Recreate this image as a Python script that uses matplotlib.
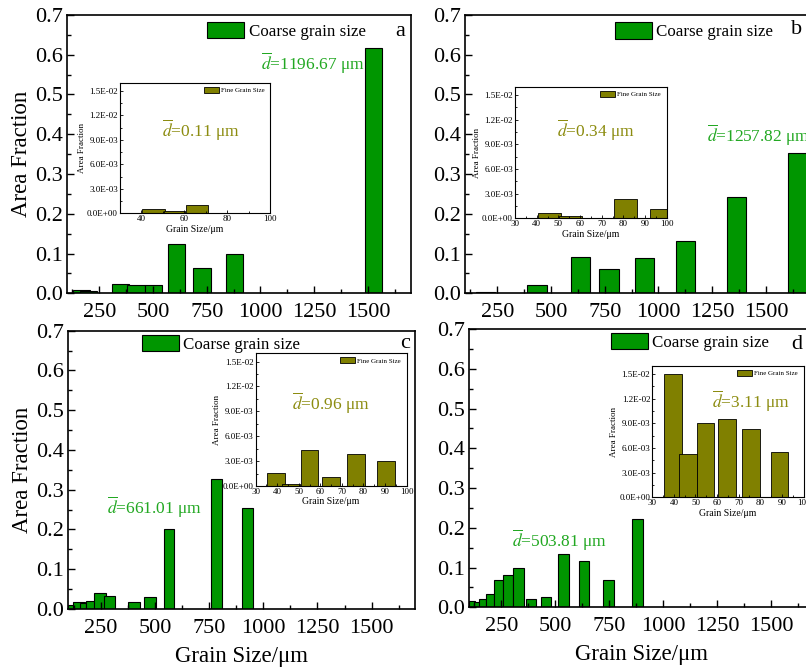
import matplotlib
matplotlib.use('Agg')
import matplotlib.pyplot as plt
from matplotlib.ticker import MultipleLocator, FuncFormatter

plt.rcParams['font.family'] = ['Liberation Serif', 'DejaVu Serif']
plt.rcParams['mathtext.fontset'] = 'stix'

GREEN = '#009600'
GREEN_TEXT = '#22a822'
OLIVE = '#808000'
OLIVE_TEXT = '#8c8c10'

# ---- coarse grains (main axes) ----
a_size = [167, 201, 349, 421, 504, 608, 728, 878, 1525]
a_width = [80, 80, 80, 80, 80, 80, 80, 80, 80]
a_frac = [0.008, 0.005, 0.023, 0.021, 0.022, 0.123, 0.063, 0.100, 0.618]

b_size = [197, 435, 637, 770, 933, 1127, 1364, 1646]
b_width = [89, 89, 89, 89, 89, 89, 89, 89]
b_frac = [0.004, 0.022, 0.092, 0.060, 0.089, 0.131, 0.241, 0.352]

c_size = [113, 150, 168, 203, 246, 291, 404, 478, 565, 784, 928]
c_width = [26, 54, 31, 39, 54, 51, 53, 53, 49, 51, 49]
c_frac = [0.011, 0.018, 0.014, 0.020, 0.039, 0.0325, 0.018, 0.031, 0.200, 0.327, 0.255]

d_size = [113, 135, 161, 196, 237, 281, 330, 387, 457, 537, 633, 746, 879]
d_width = [26, 28, 31, 39, 42, 46, 51, 49, 50, 49, 49, 50, 51]
d_frac = [0.017, 0.0126, 0.021, 0.0345, 0.069, 0.0815, 0.098, 0.021, 0.026,
          0.1345, 0.1176, 0.069, 0.2227]

# ---- fine grains (insets) ----
a_fine_size = [45.7, 55.3, 66.0]
a_fine_width = [10.5, 10.0, 10.0]
a_fine_frac = [0.0005, 0.00025, 0.0010]

b_fine_size = [46.0, 55.6, 81.0, 97.5]
b_fine_width = [10.5, 10.5, 10.5, 10.5]
b_fine_frac = [0.0007, 0.0003, 0.0023, 0.0011]

c_fine_size = [39.5, 46.5, 55.0, 65.0, 76.6, 90.5]
c_fine_width = [8.2, 8.2, 8.2, 8.2, 8.2, 8.2]
c_fine_frac = [0.00155, 0.00024, 0.00438, 0.00106, 0.0038, 0.00304]

d_fine_size = [39.6, 46.5, 54.7, 64.5, 75.8, 89.0]
d_fine_width = [8.1, 8.1, 8.1, 8.1, 8.1, 8.1]
d_fine_frac = [0.01507, 0.00532, 0.00902, 0.00959, 0.00834, 0.00556]

mean_coarse = ['1196.67', '1257.82', '661.01', '503.81']
mean_fine = ['0.11', '0.34', '0.96', '3.11']
letters = ['a', 'b', 'c', 'd']


def draw_main(ax, sizes, widths, fracs, letter, letter_xy, mean, legend_xy, text_xy,
              ylabel=False, xlabel=False):
    """主图：粗晶粒面积分数"""
    ax.bar(sizes, fracs, width=widths, color=GREEN, edgecolor='black',
           linewidth=0.8, label='Coarse grain size')
    ax.set_xlim(100, 1700)
    ax.set_ylim(0, 0.7)
    ax.set_xticks([250, 500, 750, 1000, 1250, 1500])
    ax.xaxis.set_minor_locator(MultipleLocator(125))
    ax.yaxis.set_major_locator(MultipleLocator(0.1))
    ax.yaxis.set_minor_locator(MultipleLocator(0.05))
    ax.yaxis.set_major_formatter(FuncFormatter(lambda v, p: '%.1f' % v))
    ax.tick_params(which='both', direction='in', labelsize=16, width=1)
    ax.tick_params(which='major', length=5)
    ax.tick_params(which='minor', length=3)
    ax.tick_params(axis='x', which='major', pad=7)
    ax.tick_params(axis='y', which='major', pad=3)
    for s in ax.spines.values():
        s.set_linewidth(1.2)
    if ylabel:
        ax.set_ylabel('Area Fraction', fontsize=16.5, labelpad=2)
    if xlabel:
        ax.set_xlabel('Grain Size/μm', fontsize=16.5, labelpad=6)
    ax.legend(loc='upper left', bbox_to_anchor=legend_xy, frameon=False,
              fontsize=12.2, borderpad=0, borderaxespad=0,
              handlelength=2.2, handleheight=1.1, handletextpad=0.25)
    ax.text(letter_xy[0], letter_xy[1], letter, transform=ax.transAxes, fontsize=16,
            ha='center', va='center')
    ax.text(text_xy[0], text_xy[1], r'$\overline{d}$=' + mean + ' μm',
            transform=ax.transAxes, fontsize=12.5, color=GREEN_TEXT,
            ha='left', va='center')


def draw_inset(ax, sizes, widths, fracs, mean, text_xy, step=10):
    """插图：细晶粒面积分数"""
    ax.bar(sizes, fracs, width=widths, color=OLIVE, edgecolor='black',
           linewidth=0.6, label='Fine Grain Size')
    ax.set_xlim(30, 100)
    ax.set_ylim(0, 0.016)
    if step == 20:
        ax.set_xticks([40, 60, 80, 100])
    else:
        ax.set_xticks(range(30, 101, 10))
    ax.xaxis.set_minor_locator(MultipleLocator(step / 2))
    ax.set_yticks([0, 0.003, 0.006, 0.009, 0.012, 0.015])
    ax.yaxis.set_minor_locator(MultipleLocator(0.0015))
    ax.yaxis.set_major_formatter(FuncFormatter(lambda v, p: '%.1E' % v))
    ax.tick_params(which='both', direction='in', labelsize=6.5, width=0.6, pad=1.5)
    ax.tick_params(which='major', length=2.5)
    ax.tick_params(which='minor', length=1.5)
    for s in ax.spines.values():
        s.set_linewidth(0.8)
    ax.set_ylabel('Area Fraction', fontsize=6.5, labelpad=1)
    ax.set_xlabel('Grain Size/μm', fontsize=7, labelpad=1)
    ax.legend(loc='upper left', bbox_to_anchor=(0.56, 0.97), frameon=False,
              fontsize=5, borderpad=0, borderaxespad=0,
              handlelength=2.2, handleheight=1.0, handletextpad=0.2)
    ax.text(text_xy[0], text_xy[1], r'$\overline{d}$=' + mean + ' μm',
            transform=ax.transAxes, fontsize=12.5, color=OLIVE_TEXT,
            ha='left', va='center')


fig = plt.figure(figsize=(8.06, 6.71), dpi=100)

ax_a = fig.add_axes([0.0831, 0.5629, 0.4268, 0.4148])
ax_b = fig.add_axes([0.5769, 0.5629, 0.4268, 0.4148])
ax_c = fig.add_axes([0.0847, 0.0924, 0.4302, 0.4148])
ax_d = fig.add_axes([0.5819, 0.0949, 0.4281, 0.4148])

draw_main(ax_a, a_size, a_width, a_frac, letters[0], (0.968, 0.939), mean_coarse[0],
          (0.407, 0.975), (0.564, 0.826), ylabel=True)
draw_main(ax_b, b_size, b_width, b_frac, letters[1], (0.965, 0.946), mean_coarse[1],
          (0.436, 0.973), (0.703, 0.569))
draw_main(ax_c, c_size, c_width, c_frac, letters[2], (0.971, 0.955), mean_coarse[2],
          (0.212, 0.985), (0.111, 0.365), ylabel=True, xlabel=True)
draw_main(ax_d, d_size, d_width, d_frac, letters[3], (0.95, 0.943), mean_coarse[3],
          (0.411, 0.985), (0.124, 0.242), xlabel=True)

in_a = fig.add_axes([0.1489, 0.6821, 0.1861, 0.1946])
in_b = fig.add_axes([0.6390, 0.6747, 0.1882, 0.1957])
in_c = fig.add_axes([0.3172, 0.2757, 0.1873, 0.1978])
in_d = fig.add_axes([0.8093, 0.2589, 0.1876, 0.1957])

draw_inset(in_a, a_fine_size, a_fine_width, a_fine_frac, mean_fine[0], (0.278, 0.638), step=20)
draw_inset(in_b, b_fine_size, b_fine_width, b_fine_frac, mean_fine[1], (0.275, 0.672))
draw_inset(in_c, c_fine_size, c_fine_width, c_fine_frac, mean_fine[2], (0.238, 0.623))
draw_inset(in_d, d_fine_size, d_fine_width, d_fine_frac, mean_fine[3], (0.393, 0.728))

fig.savefig('out.png', dpi=100)
